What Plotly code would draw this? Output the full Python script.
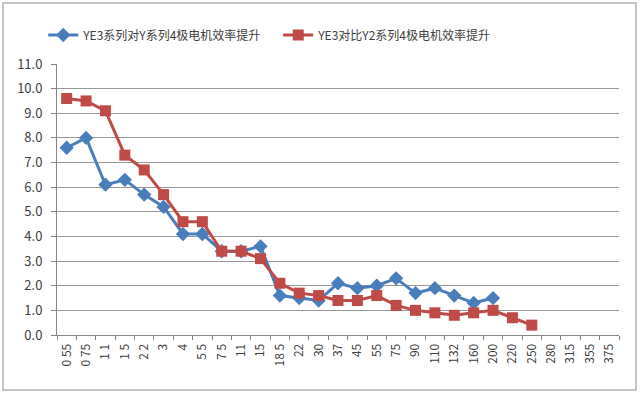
import plotly.graph_objects as go

categories = ["0 55", "0 75", "1 1", "1 5", "2 2", "3", "4", "5 5", "7 5", "11", "15", "18 5",
              "22", "30", "37", "45", "55", "75", "90", "110", "132", "160", "200", "220",
              "250", "280", "315", "355", "375"]
ye3_vs_y = [7.6, 8.0, 6.1, 6.3, 5.7, 5.2, 4.1, 4.1, 3.4, 3.4, 3.6, 1.6, 1.5, 1.4,
            2.1, 1.9, 2.0, 2.3, 1.7, 1.9, 1.6, 1.3, 1.5]
ye3_vs_y2 = [9.6, 9.5, 9.1, 7.3, 6.7, 5.7, 4.6, 4.6, 3.4, 3.4, 3.1, 2.1, 1.7, 1.6,
             1.4, 1.4, 1.6, 1.2, 1.0, 0.9, 0.8, 0.9, 1.0, 0.7, 0.4]
name1 = "YE3系列对Y系列4极电机效率提升"
name2 = "YE3对比Y2系列4极电机效率提升"
y_ticks = [0, 1, 2, 3, 4, 5, 6, 7, 8, 9, 10, 11]

font_family = "Noto Sans CJK SC, Open Sans, sans-serif"

fig = go.Figure()
fig.add_trace(go.Scatter(
    x=categories[:len(ye3_vs_y)], y=ye3_vs_y, name=name1, mode="lines+markers",
    line=dict(color="#4A7EBB", width=3),
    marker=dict(symbol="diamond", size=11, color="#4A7EBB"),
))
fig.add_trace(go.Scatter(
    x=categories[:len(ye3_vs_y2)], y=ye3_vs_y2, name=name2, mode="lines+markers",
    line=dict(color="#BE4B48", width=3),
    marker=dict(symbol="square", size=11, color="#BE4B48"),
))

fig.update_layout(
    width=640, height=393,
    margin=dict(l=57, r=21, t=64, b=58, autoexpand=False),
    paper_bgcolor="white", plot_bgcolor="white",
    font=dict(family=font_family, size=12, color="#404040"),
    showlegend=True,
    legend=dict(orientation="h", x=-0.0245, xanchor="left", y=1.107, yanchor="middle",
                yref="paper", entrywidth=190, font=dict(size=12, color="#404040"),
                bgcolor="rgba(0,0,0,0)"),
    xaxis=dict(type="category", categoryorder="array", categoryarray=categories,
               range=[-0.5, len(categories) - 0.5], tickangle=-90, automargin=False,
               tickson="boundaries", ticks="outside", ticklen=4, tickcolor="#868686",
               ticklabelstandoff=3,
               showline=True, linecolor="#868686", linewidth=1, showgrid=False,
               tickfont=dict(size=12, color="#404040")),
    yaxis=dict(range=[0, 11], tickvals=y_ticks, tickformat=".1f", automargin=False,
               ticks="outside", ticklen=5, tickcolor="#868686", ticklabelstandoff=6,
               showline=True, linecolor="#868686", linewidth=1,
               showgrid=True, gridcolor="#989898", gridwidth=1, zeroline=False,
               tickfont=dict(size=13, color="#404040")),
    shapes=[dict(type="rect", xref="paper", yref="paper",
                 x0=(3 - 57) / 562, x1=(636 - 57) / 562,
                 y0=(335 - 390) / 271, y1=(335 - 3) / 271,
                 line=dict(color="#B4B4B4", width=1.5), layer="below")],
)

fig.write_html("out.html", config={"displayModeBar": False},
               post_script="document.body.style.margin='0px';")
